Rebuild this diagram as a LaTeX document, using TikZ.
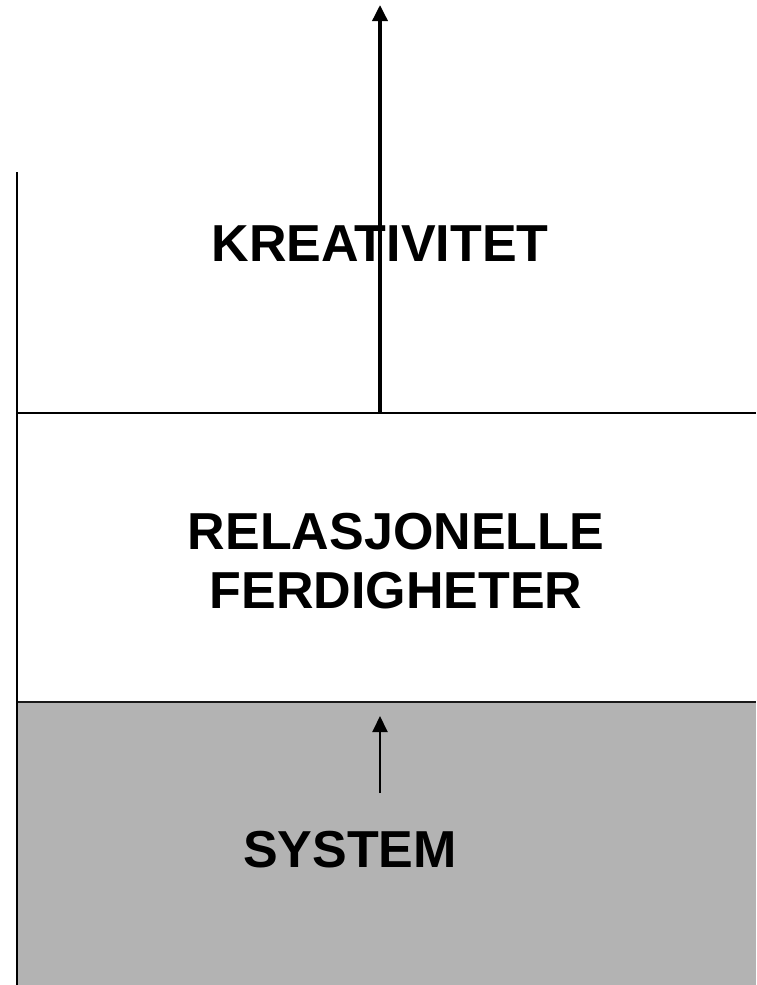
\documentclass[tikz,border=0pt]{standalone}
\usepackage{fontspec}
\setmainfont{Liberation Sans}
\usetikzlibrary{arrows.meta}
\definecolor{sysgray}{RGB}{179,179,179}
\begin{document}
\begin{tikzpicture}[x=1pt,y=-1pt,
  label/.style={font=\bfseries\fontsize{52}{59}\selectfont, inner sep=0pt, anchor=base, align=center},
  bigarrow/.style={line width=3.5pt, -{Triangle[length=16pt,width=15pt]}},
  smallarrow/.style={line width=2pt, -{Triangle[length=16pt,width=15pt]}}]
\useasboundingbox (0,0) rectangle (756,985);
\fill[white] (0,0) rectangle (756,985);
% gray system layer
\fill[sysgray] (17,702) rectangle (756,985);
\draw[line width=2.2pt, black!90] (17,702) -- (756,702);
% separator
\draw[line width=1.5pt] (17,413) -- (756,413);
% left axis
\draw[line width=2pt] (17,172) -- (17,985);
% arrows
\coordinate (bigbase) at (380,413);
\coordinate (bigtip) at (380,5);
\coordinate (smallbase) at (380,793);
\coordinate (smalltip) at (380,716);
\draw[bigarrow] (bigbase) -- (bigtip);
\draw[smallarrow] (smallbase) -- (smalltip);
% texts
\node[label] (krea) at (380,261) {KREATIVITET};
\node[label] (rel) at (396,608) {RELASJONELLE\\FERDIGHETER};
\node[label] (sys) at (350,867) {SYSTEM};
\end{tikzpicture}
\end{document}
